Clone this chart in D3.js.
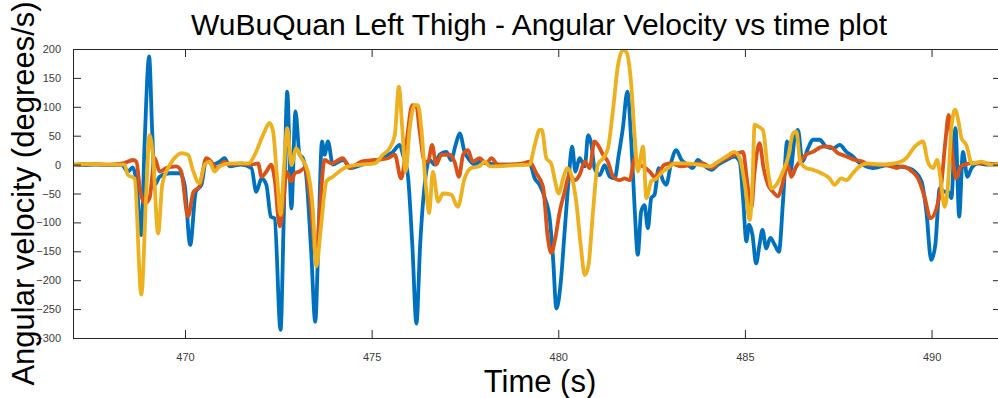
<!DOCTYPE html>
<html>
<head>
<meta charset="utf-8">
<script src="https://cdn.jsdelivr.net/npm/d3@7"></script>
<style>
  html, body { margin: 0; padding: 0; background: #fff; overflow: hidden; }
  svg { display: block; font-family: "Liberation Sans", Arial, Helvetica, sans-serif; }
</style>
</head>
<body>
<svg id="chart" width="998" height="398"></svg>
<script>
// Tick values for both axes
const xTicks = [470, 475, 480, 485, 490];
const yTicks = [-300, -250, -200, -150, -100, -50, 0, 50, 100, 150, 200];

// Angular velocity samples: [time (s), degrees/s]
const blueData = [
  [467.0,0],[467.3,-1],[467.6,0],[468.0,-1],[468.3,0],[468.47,-12],[468.6,-5],[468.7,-30],[468.83,-122],[468.92,40],
  [469.04,187],[469.12,60],[469.19,-35],[469.32,-21],[469.59,-15],[469.86,-15],[469.99,-35],[470.14,-139],[470.29,-47],
  [470.44,-35],[470.57,8],[470.75,0],[470.93,5],[471.06,11],[471.2,-3],[471.5,0],[471.78,-6],[471.91,-47],[472.05,-24],
  [472.18,-35],[472.3,-90],[472.4,-93],[472.56,-286],[472.65,-81],[472.74,126],[472.85,-76],[472.96,92],[473.07,17],
  [473.16,11],[473.25,-20],[473.38,-150],[473.49,-272],[473.58,-116],[473.67,40],[473.74,17],[473.83,40],[473.96,0],
  [474.23,8],[474.46,-6],[474.75,0],[475.08,5],[475.44,17],[475.57,22],[475.75,34],[475.84,17],[475.97,-18],
  [476.09,-139],[476.2,-275],[476.3,-139],[476.42,-35],[476.55,8],[476.69,0],[476.82,17],[477.0,22],[477.13,8],
  [477.25,34],[477.36,54],[477.49,22],[477.62,8],[477.76,0],[477.9,5],[478.08,2],[478.43,0],[478.87,0],[479.23,2],
  [479.37,-24],[479.5,-35],[479.64,-58],[479.77,-93],[479.86,-162],[479.95,-249],[480.06,-208],[480.17,-116],
  [480.28,-24],[480.37,31],[480.46,-12],[480.57,11],[480.71,-3],[480.8,51],[480.89,34],[480.97,-6],[481.11,-18],
  [481.24,-1],[481.38,-21],[481.51,-24],[481.62,17],[481.73,63],[481.85,126],[481.96,34],[482.05,-81],[482.13,-156],
  [482.22,-81],[482.31,-70],[482.4,-110],[482.49,-58],[482.58,-52],[482.69,-6],[482.8,-27],[482.89,-35],[483.03,5],
  [483.16,25],[483.3,8],[483.47,0],[483.6,-6],[483.74,8],[483.88,0],[484.1,-9],[484.28,0],[484.5,8],[484.72,14],
  [484.86,5],[484.95,-58],[485.04,-133],[485.11,-104],[485.2,-121],[485.3,-171],[485.39,-139],[485.47,-113],
  [485.57,-145],[485.68,-127],[485.8,-139],[485.91,-151],[486.02,-64],[486.13,40],[486.22,-12],[486.33,46],
  [486.42,60],[486.54,5],[486.69,28],[486.82,43],[487.0,43],[487.18,31],[487.36,28],[487.54,34],[487.72,22],
  [487.89,14],[488.03,5],[488.17,-1],[488.43,-6],[488.65,-3],[488.92,0],[489.1,-3],[489.37,-6],[489.55,-12],
  [489.73,-29],[489.86,-81],[489.99,-165],[490.1,-139],[490.22,-41],[490.35,-47],[490.44,-47],[490.53,-58],
  [490.64,63],[490.74,-90],[490.84,22],[490.96,-21],[491.07,-6],[491.25,2],[491.5,0],[491.86,0]
];

const orangeData = [
  [467.0,0],[467.5,1],[468.0,0],[468.34,2],[468.61,8],[468.7,5],[468.79,-41],[468.92,-67],[469.05,-58],[469.19,11],
  [469.32,-12],[469.5,-6],[469.77,-3],[469.9,-12],[470.08,-90],[470.23,-47],[470.39,-38],[470.57,11],[470.7,5],
  [470.84,-6],[471.06,5],[471.2,0],[471.5,2],[471.78,0],[471.96,2],[472.05,-21],[472.18,-12],[472.31,0],[472.4,-24],
  [472.54,-107],[472.63,-70],[472.72,-12],[472.85,-29],[472.94,-15],[473.07,-12],[473.21,-6],[473.34,-52],
  [473.52,-162],[473.61,-81],[473.74,8],[473.92,2],[474.23,11],[474.41,-6],[474.72,5],[475.08,8],[475.44,11],
  [475.62,17],[475.79,-24],[475.88,5],[475.97,57],[476.09,103],[476.2,100],[476.29,57],[476.42,5],[476.51,5],
  [476.62,34],[476.73,0],[476.87,17],[477.09,17],[477.22,5],[477.34,-21],[477.45,17],[477.58,25],[477.71,5],
  [477.89,11],[478.07,2],[478.21,11],[478.38,0],[478.7,0],[479.05,2],[479.23,5],[479.41,-15],[479.59,-38],
  [479.72,-127],[479.81,-153],[479.92,-127],[480.04,-81],[480.17,-47],[480.3,-18],[480.44,-27],[480.57,-18],
  [480.71,5],[480.84,-6],[480.97,40],[481.06,34],[481.2,17],[481.33,5],[481.47,-21],[481.64,-27],[481.78,-24],
  [481.91,-27],[482.05,11],[482.15,0],[482.27,-3],[482.45,-12],[482.58,-21],[482.71,-12],[482.85,0],[483.03,2],
  [483.3,-3],[483.56,0],[483.74,2],[483.88,2],[484.1,-6],[484.32,5],[484.72,17],[484.95,22],[485.05,-24],
  [485.17,-76],[485.26,-12],[485.39,37],[485.5,-6],[485.62,-35],[485.75,-47],[485.89,-55],[486.0,-35],[486.15,0],
  [486.24,-21],[486.38,-3],[486.51,8],[486.64,17],[486.82,22],[487.09,31],[487.27,31],[487.49,20],[487.72,14],
  [487.94,8],[488.16,5],[488.3,0],[488.65,0],[488.92,-3],[489.06,-6],[489.2,-3],[489.46,-11],[489.64,-24],
  [489.82,-58],[489.97,-93],[490.13,-76],[490.26,-35],[490.37,40],[490.46,86],[490.55,22],[490.66,-24],[490.78,-3],
  [490.89,0],[491.07,2],[491.33,2],[491.86,0]
];

const yellowData = [
  [467.0,0],[467.5,1],[468.0,0],[468.38,0],[468.47,-18],[468.65,-24],[468.83,-225],[468.96,-52],[469.05,51],
  [469.14,17],[469.28,-119],[469.39,-35],[469.5,-12],[469.68,8],[469.9,20],[470.08,17],[470.21,-9],[470.38,-32],
  [470.53,0],[470.66,5],[470.79,-12],[470.93,-3],[471.2,2],[471.5,2],[471.7,2],[471.87,17],[472.09,51],[472.27,72],
  [472.36,57],[472.47,-24],[472.56,-87],[472.65,-6],[472.74,63],[472.85,-1],[472.98,28],[473.12,11],[473.29,-12],
  [473.43,-81],[473.52,-176],[473.63,-116],[473.79,-29],[473.96,-21],[474.19,-9],[474.37,-3],[474.72,0],[475.08,2],
  [475.3,17],[475.48,28],[475.62,51],[475.73,135],[475.82,63],[475.91,-12],[476.02,63],[476.15,103],[476.24,103],
  [476.33,63],[476.45,-35],[476.54,-84],[476.64,-12],[476.78,-64],[476.91,-50],[477.13,-52],[477.31,-73],
  [477.49,-24],[477.67,-6],[477.89,-3],[478.03,5],[478.16,-3],[478.38,-3],[478.87,-1],[479.23,0],[479.37,34],
  [479.5,60],[479.56,60],[479.68,11],[479.81,2],[479.9,-24],[480.01,-50],[480.13,-24],[480.24,-6],[480.35,-18],
  [480.48,-64],[480.6,-139],[480.71,-191],[480.81,-174],[480.93,-81],[481.06,0],[481.2,11],[481.33,28],[481.47,97],
  [481.6,172],[481.73,198],[481.82,195],[481.94,149],[482.05,46],[482.13,-12],[482.27,31],[482.36,-58],[482.49,-29],
  [482.63,-24],[482.8,-12],[482.94,-6],[483.12,2],[483.38,2],[483.74,0],[484.05,-3],[484.28,5],[484.5,14],
  [484.72,22],[484.86,11],[485.0,-35],[485.13,-96],[485.2,-35],[485.26,69],[485.35,66],[485.48,60],[485.62,-12],
  [485.71,-41],[485.84,-35],[486.02,-12],[486.15,11],[486.29,54],[486.38,57],[486.48,5],[486.64,-6],[486.82,-9],
  [487.05,-15],[487.27,-24],[487.4,-35],[487.58,-24],[487.72,-27],[487.89,-15],[488.07,-3],[488.3,2],[488.65,0],
  [489.01,2],[489.32,11],[489.55,31],[489.77,40],[489.9,5],[490.04,-6],[490.15,8],[490.24,-24],[490.35,-73],
  [490.44,-35],[490.53,63],[490.63,95],[490.72,75],[490.8,46],[490.93,34],[491.08,2],[491.33,5],[491.6,0],[491.86,0]
];

const seriesList = [
  { name: "blue", color: "#0072BD", data: blueData },
  { name: "orange", color: "#D95319", data: orangeData },
  { name: "yellow", color: "#EDB120", data: yellowData }
];

const margin = { left: 73, top: 49, right: 1001, bottom: 338 };
const axisColor = "#262626";

const svg = d3.select("#chart");

const x = d3.scaleLinear().domain([467, 491.86]).range([margin.left, margin.right]);
const y = d3.scaleLinear().domain([-300, 200]).range([margin.bottom, margin.top]);

svg.append("defs").append("clipPath").attr("id", "plotClip")
  .append("rect")
  .attr("x", margin.left).attr("y", margin.top)
  .attr("width", margin.right - margin.left).attr("height", margin.bottom - margin.top);

// Data lines
const line = d3.line()
  .x(d => x(d[0]))
  .y(d => y(d[1]))
  .curve(d3.curveMonotoneX);

const lines = svg.append("g").attr("clip-path", "url(#plotClip)");
seriesList.forEach(s => {
  lines.append("path")
    .datum(s.data)
    .attr("fill", "none")
    .attr("stroke", s.color)
    .attr("stroke-width", 3.8)
    .attr("stroke-linejoin", "round")
    .attr("stroke-linecap", "round")
    .attr("d", line);
});

// Axes with inward ticks, boxed like a MATLAB figure
const tickLen = 8;
const xBottom = d3.axisBottom(x).tickValues(xTicks).tickSize(-tickLen).tickPadding(tickLen + 7).tickFormat(d3.format("d"));
const xTop = d3.axisTop(x).tickValues(xTicks).tickSize(-tickLen).tickFormat("");
const yLeft = d3.axisLeft(y).tickValues(yTicks).tickSize(-tickLen).tickPadding(tickLen + 4).tickFormat(d3.format("d"));
const yRight = d3.axisRight(y).tickValues(yTicks).tickSize(-tickLen).tickFormat("");

function styleAxis(g) {
  g.selectAll("path").attr("stroke", axisColor).attr("stroke-width", 1);
  g.selectAll("line").attr("stroke", axisColor).attr("stroke-width", 1);
  g.selectAll("text").attr("fill", "#3a3a3a").style("font-size", "11px")
    .style("font-family", '"Liberation Sans", Arial, sans-serif');
}

svg.append("g").attr("transform", `translate(0,${margin.bottom})`).call(xBottom).call(styleAxis);
svg.append("g").attr("transform", `translate(0,${margin.top})`).call(xTop).call(styleAxis);
svg.append("g").attr("transform", `translate(${margin.left},0)`).call(yLeft).call(styleAxis);
svg.append("g").attr("transform", `translate(${margin.right},0)`).call(yRight).call(styleAxis);

// Titles
const cx = (margin.left + margin.right) / 2;
svg.append("text")
  .attr("x", cx + 2).attr("y", 35)
  .attr("text-anchor", "middle")
  .attr("fill", "#000")
  .style("font-size", "30px")
  .text("WuBuQuan Left Thigh - Angular Velocity vs time plot");

svg.append("text")
  .attr("x", cx + 3).attr("y", 392)
  .attr("text-anchor", "middle")
  .attr("fill", "#000")
  .style("font-size", "31px")
  .text("Time (s)");

svg.append("text")
  .attr("transform", `translate(34,${(margin.top + margin.bottom) / 2}) rotate(-90)`)
  .attr("text-anchor", "middle")
  .attr("fill", "#000")
  .style("font-size", "31px")
  .text("Angular velocity (degrees/s)");
</script>
</body>
</html>
